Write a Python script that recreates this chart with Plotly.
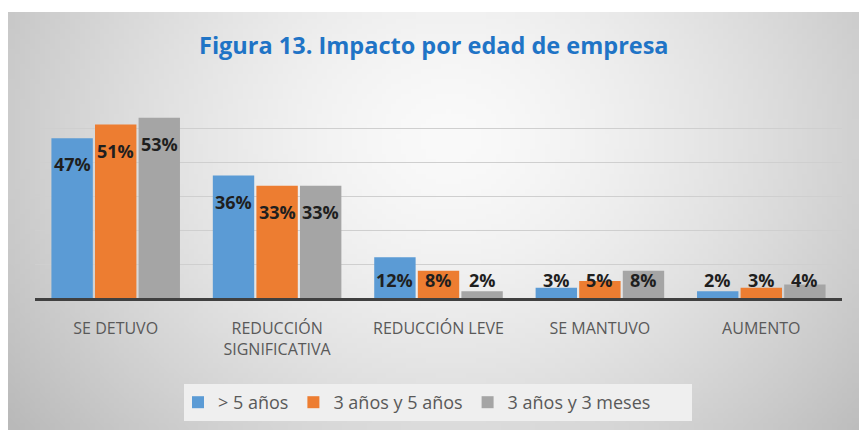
import base64, struct, zlib
import plotly.graph_objects as go

# ---------------- data ----------------
categories = ["SE DETUVO", "REDUCCIÓN<br>SIGNIFICATIVA", "REDUCCIÓN LEVE", "SE MANTUVO", "AUMENTO"]
series_names = ["> 5 años", "3 años y 5 años", "3 años y 3 meses"]
mas_5 = [47, 36, 12, 3, 2]
entre_3_5 = [51, 33, 8, 5, 3]
entre_3a_3m = [53, 33, 2, 8, 4]
series_values = [mas_5, entre_3_5, entre_3a_3m]
colors = ["#5b9bd5", "#ed7d31", "#a5a5a5"]
y_ticks = [0, 10, 20, 30, 40, 50, 60]

W, H = 859, 430
ML, MR, MT, MB = 35, 17, 94, 132
FONT = "Open Sans"

# ---------------- gradient background (generated PNG) ----------------
def gradient_png(w, h):
    rows = b""
    for j in range(h):
        v = j / (h - 1)
        row = bytearray([0])
        for i in range(w):
            u = i / (w - 1)
            r = (((u - 0.52) / 0.62) ** 2 + ((v - 0.3) / 1.1) ** 2) ** 0.5
            c = int(max(185, min(250, 250 - 60 * r ** 1.5)))
            row.append(c)
        rows += bytes(row)
    def chunk(t, d):
        return struct.pack(">I", len(d)) + t + d + struct.pack(">I", zlib.crc32(t + d) & 0xffffffff)
    png = b"\x89PNG\r\n\x1a\n"
    png += chunk(b"IHDR", struct.pack(">IIBBBBB", w, h, 8, 0, 0, 0, 0))
    png += chunk(b"IDAT", zlib.compress(rows, 9))
    png += chunk(b"IEND", b"")
    return "data:image/png;base64," + base64.b64encode(png).decode()

pw, ph = W - ML - MR, H - MT - MB
def px_to_paper_x(px):
    return (px - ML) / pw
def px_to_paper_y(py):
    return (H - MB - py) / ph

frame_l, frame_t, frame_r, frame_b = 8, 12, 859, 430
leg_l, leg_t, leg_r, leg_b = 184, 384, 692, 421

fig = go.Figure()

for name, vals, col in zip(series_names, series_values, colors):
    fig.add_trace(go.Bar(
        x=list(range(len(categories))), y=vals, name=name,
        marker=dict(color=col, line=dict(width=0)),
        hoverinfo="skip",
    ))

bargap = 0.19
slot = (1 - bargap) / len(series_names)
annotations = []
for k, vals in enumerate(series_values):
    for i, v in enumerate(vals):
        annotations.append(dict(
            x=i + (k - 1) * slot, y=max(v - 7.7, 5.3), xref="x", yref="y",
            text=f"<b>{v}%</b>", showarrow=False,
            font=dict(family=FONT, size=18, color="#1f1f1f"),
            xanchor="center", yanchor="middle",
        ))

fig.update_layout(
    width=W, height=H,
    margin=dict(l=ML, r=MR, t=MT, b=MB, autoexpand=False),
    paper_bgcolor="white", plot_bgcolor="rgba(0,0,0,0)",
    barmode="group", bargap=bargap, bargroupgap=0.05,
    title=dict(text="<b>Figura 13. Impacto por edad de empresa</b>",
               x=0.505, xanchor="center", y=1 - 46 / H, yanchor="middle",
               font=dict(family=FONT, size=23.5, color="#1f74c6")),
    xaxis=dict(
        tickmode="array", tickvals=list(range(len(categories))), ticktext=categories,
        range=[-0.5, len(categories) - 0.5], automargin=False,
        showline=True, linecolor="#404040", linewidth=3,
        showgrid=False, ticks="", ticklabelstandoff=14,
        tickfont=dict(family=FONT, size=16, color="#595959"),
        fixedrange=True,
    ),
    yaxis=dict(
        range=[0, 60], tickvals=y_ticks, showticklabels=False, automargin=False,
        showgrid=True, gridcolor="#cfcfcf", gridwidth=1, zeroline=False,
        fixedrange=True,
    ),
    legend=dict(
        orientation="h", x=px_to_paper_x(178), xanchor="left",
        y=px_to_paper_y((leg_t + leg_b) / 2), yanchor="middle",
        bgcolor="rgba(0,0,0,0)", font=dict(family=FONT, size=18, color="#595959"),
        itemwidth=30, traceorder="normal",
    ),
    shapes=[dict(
        type="rect", xref="paper", yref="paper", layer="below",
        x0=px_to_paper_x(leg_l), x1=px_to_paper_x(leg_r),
        y0=px_to_paper_y(leg_b), y1=px_to_paper_y(leg_t),
        fillcolor="#efefef", line=dict(width=0),
    )],
    images=[dict(
        source=gradient_png(172, 84), xref="paper", yref="paper",
        x=px_to_paper_x(frame_l), y=px_to_paper_y(frame_t),
        sizex=(frame_r - frame_l) / pw, sizey=(frame_b - frame_t) / ph,
        xanchor="left", yanchor="top", sizing="stretch", layer="below",
    )],
    annotations=annotations,
    showlegend=True,
)

fig.write_html("out.html", config={"displayModeBar": False},
               post_script="document.body.style.margin='0';")
